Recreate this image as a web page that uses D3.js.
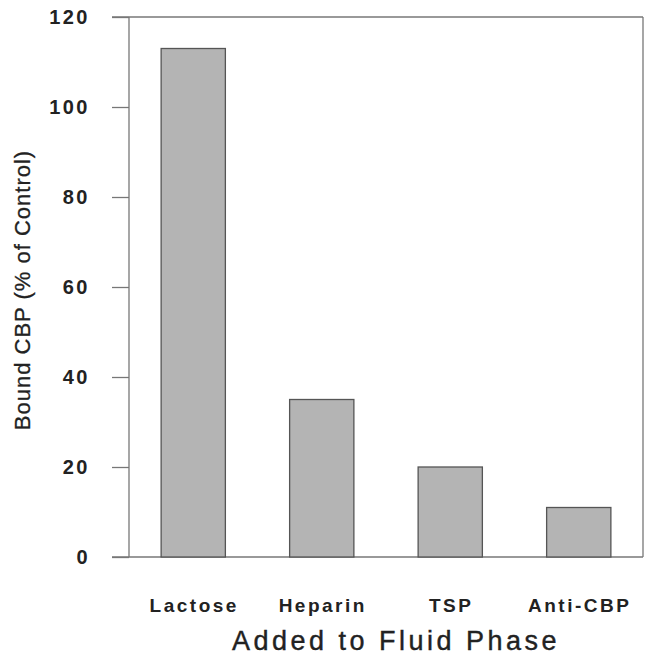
<!DOCTYPE html>
<html><head><meta charset="utf-8">
<script src="https://cdn.jsdelivr.net/npm/d3@7"></script>
<style>body{margin:0;background:#fff}</style>
</head><body>
<svg id="c" width="645" height="658"></svg>
<script>
const categories = ["Lactose", "Heparin", "TSP", "Anti-CBP"];
const values = [113, 35, 20, 11];
const yTicks = [0, 20, 40, 60, 80, 100, 120];

const svg = d3.select("#c");
const L = 129, R = 643, T = 17, B = 557;
const x = d3.scaleBand().domain(categories).range([L, R]).paddingInner(0.5).paddingOuter(0.25);
const y = d3.scaleLinear().domain([0, 120]).range([B, T]);

// frame
svg.append("line").attr("x1", L).attr("x2", L).attr("y1", T).attr("y2", B).attr("stroke", "#777").attr("stroke-width", 1.3);
svg.append("line").attr("x1", R).attr("x2", R).attr("y1", T).attr("y2", B).attr("stroke", "#777").attr("stroke-width", 1.3);
svg.append("line").attr("x1", L - 17).attr("x2", R).attr("y1", T).attr("y2", T).attr("stroke", "#777").attr("stroke-width", 1.3);
svg.append("line").attr("x1", L - 17).attr("x2", R).attr("y1", B).attr("y2", B).attr("stroke", "#777").attr("stroke-width", 1.3);

const yAxis = svg.append("g").attr("transform", `translate(${L},0)`)
  .call(d3.axisLeft(y).tickValues(yTicks).tickSize(17).tickPadding(22).tickFormat(d3.format("d")));
yAxis.select(".domain").remove();
yAxis.selectAll(".tick line").attr("stroke", "#777").attr("stroke-width", 1.3);
yAxis.selectAll(".tick text").attr("font-family", "Liberation Sans, Arial, sans-serif")
  .attr("font-size", 20).attr("font-weight", "bold").attr("fill", "#222").attr("letter-spacing", 2.5);

svg.append("g").selectAll("rect").data(values).join("rect")
  .attr("x", (d, i) => x(categories[i]))
  .attr("width", x.bandwidth())
  .attr("y", d => y(d))
  .attr("height", d => y(0) - y(d))
  .attr("fill", "#b4b4b4").attr("stroke", "#555").attr("stroke-width", 1.3);

svg.append("g").selectAll("text").data(categories).join("text")
  .attr("x", d => x(d) + x.bandwidth() / 2 + 1)
  .attr("y", 612)
  .attr("text-anchor", "middle")
  .attr("font-family", "Liberation Sans, Arial, sans-serif")
  .attr("font-size", 19).attr("font-weight", "bold").attr("fill", "#222").attr("letter-spacing", 2.5)
  .text(d => d);

svg.append("text").attr("x", 396).attr("y", 650).attr("text-anchor", "middle")
  .attr("font-family", "Liberation Sans, Arial, sans-serif")
  .attr("font-size", 27).attr("fill", "#222").attr("stroke", "#222").attr("stroke-width", 0.4)
  .attr("letter-spacing", 3.5)
  .text("Added to Fluid Phase");

svg.append("text").attr("transform", "translate(30,290) rotate(-90)").attr("text-anchor", "middle")
  .attr("font-family", "Liberation Sans Narrow, Arial Narrow, sans-serif")
  .attr("font-size", 22).attr("fill", "#222").attr("stroke", "#222").attr("stroke-width", 0.3)
  .attr("letter-spacing", 1)
  .text("Bound CBP (% of Control)");
</script>
</body></html>
